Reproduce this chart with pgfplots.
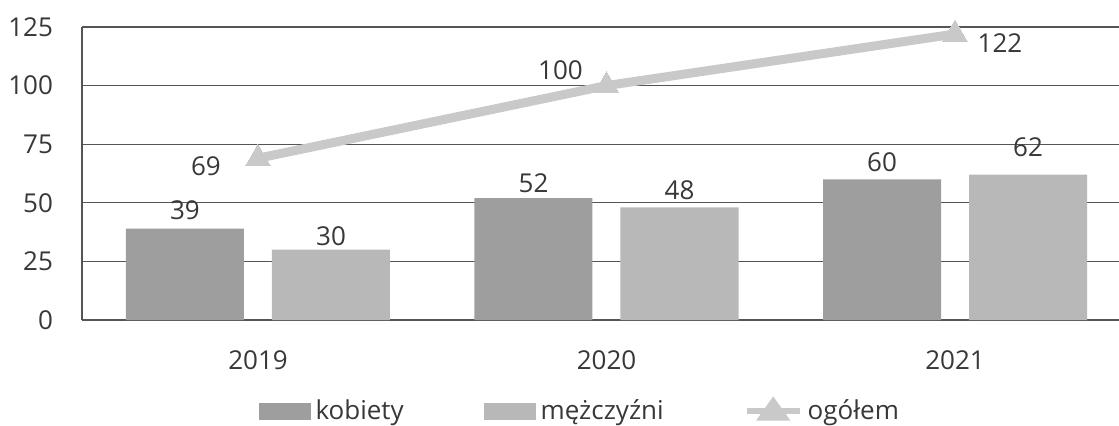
\documentclass[border=0pt]{standalone}
\usepackage{pgfplots}
\pgfplotsset{compat=1.18}
\usepackage{fontspec}
\setmainfont{Open Sans}

\definecolor{kob}{HTML}{9E9E9E}
\definecolor{mez}{HTML}{B8B8B8}
\definecolor{ogol}{HTML}{C9C9C9}
\definecolor{gridc}{HTML}{555555}
\definecolor{txt}{HTML}{383838}

% x, value, label offsets (pt)
\pgfplotstableread{
x y dx dy
0 39 -36.5 9
1 52 -36.5 7.5
2 60 -36.5 8.5
}\kobiety
\pgfplotstableread{
x y dx dy
0 30 36.5 6.5
1 48 36.5 8.5
2 62 36.5 13.5
}\mezczyzni
\pgfplotstableread{
x y dx dy
0 69 -26 -4
1 100 -23 7.5
2 122 22.5 -4.5
}\ogolem

\begin{document}
\begin{tikzpicture}
\begin{axis}[
    scale only axis,
    width=518.5pt, height=146.5pt,
    xmin=-0.505, xmax=2.4706,
    ymin=0, ymax=125,
    ytick={0,25,50,75,100,125},
    xtick={0,1,2},
    xticklabels={2019,2020,2021},
    axis lines*=left,
    axis line style={draw=gridc, line width=0.6pt},
    major tick length=0pt,
    ymajorgrids=true,
    grid style={draw=gridc, line width=0.6pt},
    /pgf/number format/assume math mode=true,
    tick label style={font=\fontsize{13}{15}\selectfont, text=txt},
    yticklabel style={xshift=-11pt},
    xticklabel style={yshift=-12pt},
    legend columns=-1,
    legend style={at={(0.479,-0.311)}, anchor=center, draw=none, fill=none,
        font=\fontsize{13}{15}\selectfont, text=txt,
        nodes={inner sep=0pt},
        /tikz/every odd column/.append style={column sep=2.5pt},
        /tikz/every even column/.append style={column sep=40pt}},
    labelled/.style={
        nodes near coords,
        visualization depends on={\thisrow{dx} \as \dx},
        visualization depends on={\thisrow{dy} \as \dy},
        every node near coord/.append style={font=\fontsize{13}{15}\selectfont,
            text=txt, inner sep=0pt, anchor=center,
            xshift=\dx pt, yshift=\dy pt}},
]
\addplot[ybar, bar width=59pt, bar shift=-36.5pt, fill=kob, draw=none,
    labelled,
    legend image code/.code={\fill[kob] (0pt,-4.25pt) rectangle (26pt,4.25pt);}]
    table[x=x, y=y] {\kobiety};
\addlegendentry{kobiety}
\addplot[ybar, bar width=59pt, bar shift=36.5pt, fill=mez, draw=none,
    labelled,
    legend image code/.code={\fill[mez] (0pt,-4.25pt) rectangle (26pt,4.25pt);}]
    table[x=x, y=y] {\mezczyzni};
\addlegendentry{mężczyźni}
\addplot[color=ogol, line width=4.5pt, mark=triangle*, mark size=7pt,
    mark options={line width=0pt, fill=ogol},
    labelled,
    legend image code/.code={
        \draw[ogol, line width=3pt] (0pt,0pt) -- (26.5pt,0pt);
        \fill[ogol] (13.25pt,3.5pt) -- (9pt,-2.5pt) -- (17.5pt,-2.5pt) -- cycle;}]
    table[x=x, y=y] {\ogolem};
\addlegendentry{ogółem}
\end{axis}
\pgfresetboundingbox
\useasboundingbox (-41pt,-52.5pt) rectangle (518.5pt,160pt);
\end{tikzpicture}
\end{document}
